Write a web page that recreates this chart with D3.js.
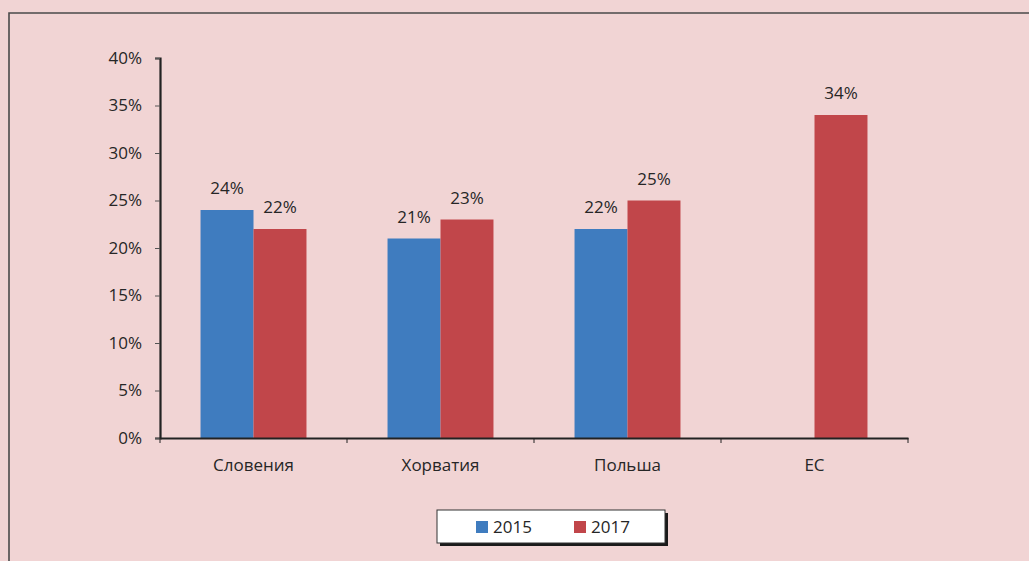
<!DOCTYPE html>
<html>
<head>
<meta charset="utf-8">
<script src="https://cdn.jsdelivr.net/npm/d3@7"></script>
<style>
  body { margin: 0; background: #f1d4d4; }
  text { font-family: "Open Sans", "Noto Sans", sans-serif; fill: #262626; }
</style>
</head>
<body>
<div class="chart"></div>
<script>
// chart data
let categories = ["Словения", "Хорватия", "Польша", "ЕС"];
let series = ["2015", "2017"];
let values2015 = [24, 21, 22, null];
let values2017 = [22, 23, 25, 34];
let yTicks = [0, 5, 10, 15, 20, 25, 30, 35, 40];
let colors = ["#3f7cbf", "#c1464a"];

let svgWidth = 1029;
let svgHeight = 561;
let margin = {top: 58, right: 121, bottom: 123, left: 160};
let width = svgWidth - margin.left - margin.right;
let height = svgHeight - margin.top - margin.bottom;

let svg = d3.select(".chart").append("svg")
  .attr("width", svgWidth)
  .attr("height", svgHeight);

// background + outer frame (runs off right and bottom edges)
svg.append("rect").attr("width", svgWidth).attr("height", svgHeight).attr("fill", "#f1d4d4");
svg.append("path")
  .attr("d", `M9,${svgHeight + 5} V13 H${svgWidth + 5}`)
  .attr("fill", "none")
  .attr("stroke", "#4a4a4a")
  .attr("stroke-width", 1.6);

let chartGroup = svg.append("g")
  .attr("transform", `translate(${margin.left}, ${margin.top})`);

let x0 = d3.scaleBand().domain(categories).range([0, width]);
let x1 = d3.scaleBand().domain(series).range([0, x0.bandwidth()]).paddingOuter(0.765);
let y = d3.scaleLinear().domain([0, 40]).range([height, 0]);

// bars
let rows = categories.map((c, i) => ({cat: c, vals: [values2015[i], values2017[i]]}));
let groups = chartGroup.selectAll(".cat")
  .data(rows)
  .enter().append("g")
  .attr("transform", d => `translate(${x0(d.cat)},0)`);

groups.selectAll("rect")
  .data(d => d.vals.map((v, j) => ({s: series[j], v: v, j: j})).filter(e => e.v != null))
  .enter().append("rect")
  .attr("x", e => x1(e.s))
  .attr("y", e => y(e.v))
  .attr("width", x1.bandwidth())
  .attr("height", e => height - y(e.v))
  .attr("fill", e => colors[e.j]);

groups.selectAll(".lbl")
  .data(d => d.vals.map((v, j) => ({s: series[j], v: v})).filter(e => e.v != null))
  .enter().append("text")
  .attr("x", e => x1(e.s) + x1.bandwidth() / 2)
  .attr("y", e => y(e.v) - 16)
  .attr("text-anchor", "middle")
  .style("font-size", "17px")
  .text(e => e.v + "%");

// y axis
let leftAxis = d3.axisLeft(y).tickValues(yTicks).tickFormat(d => d + "%").tickSize(5).tickPadding(13);
let yg = chartGroup.append("g").call(leftAxis);
yg.selectAll("text").style("font-size", "17px");

// x axis
let bottomAxis = d3.axisBottom(x0).tickSize(0).tickPadding(21);
let xg = chartGroup.append("g")
  .attr("transform", `translate(0, ${height})`)
  .call(bottomAxis);
xg.selectAll("text").style("font-size", "17px");
// category boundary ticks
xg.selectAll(".bound")
  .data(categories.map(c => x0(c)).concat([width]))
  .enter().append("line")
  .attr("x1", d => d).attr("x2", d => d)
  .attr("y1", 0).attr("y2", 5)
  .attr("stroke", "#222");

chartGroup.selectAll(".domain").attr("stroke", "#222").attr("stroke-width", 2.2);
chartGroup.selectAll(".tick line").attr("stroke", "#555");

// legend
let legend = svg.append("g").attr("transform", "translate(437, 510)");
legend.append("rect").attr("x", 3).attr("y", 3).attr("width", 228).attr("height", 33).attr("fill", "#1a1a1a");
legend.append("rect").attr("width", 228).attr("height", 33).attr("fill", "#ffffff").attr("stroke", "#333").attr("stroke-width", 1);
let li = legend.selectAll(".item")
  .data(series)
  .enter().append("g")
  .attr("transform", (d, i) => `translate(${39 + i * 98}, 11)`);
li.append("rect").attr("width", 12).attr("height", 12).attr("fill", (d, i) => colors[i]);
li.append("text").attr("x", 17).attr("y", 12).style("font-size", "17px").text(d => d);
</script>
</body>
</html>
